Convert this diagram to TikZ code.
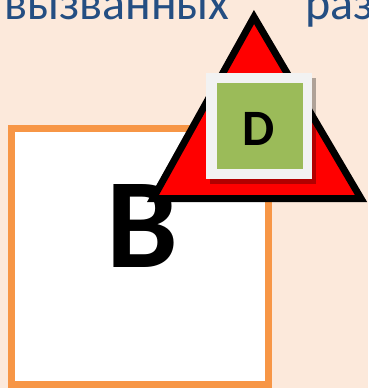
\documentclass[tikz,border=0pt]{standalone}
\usepackage{fontspec}
\setmainfont{Carlito}
\definecolor{bgpeach}{RGB}{252,233,219}
\definecolor{txtblue}{RGB}{36,78,130}
\definecolor{boxorange}{RGB}{247,150,70}
\definecolor{boxgreen}{RGB}{155,187,89}
\definecolor{framegray}{RGB}{242,242,242}
\tikzset{
  word/.style={anchor=base west, inner sep=0pt, text=txtblue, font=\fontsize{48}{48}\selectfont},
  bigletter/.style={anchor=base, inner sep=0pt, text=black},
}
\begin{document}
\begin{tikzpicture}[x=1pt,y=-1pt]
\fill[bgpeach] (0,0) rectangle (368,388);
\useasboundingbox (0,0) rectangle (368,388);
\node[word] (w1) at (4,19) {вызванных};
\node[word] (w2) at (305,19) {раз};
\node[draw=boxorange, line width=7pt, fill=white, minimum width=257pt, minimum height=256pt, inner sep=0pt] (box) at (140,256.5) {};
\node[bigletter, font=\bfseries\fontsize{128}{128}\selectfont] (B) at (142.5,267) {B};
\coordinate (tA) at (254,17);
\coordinate (tL) at (153,198.5);
\coordinate (tR) at (361,198.5);
\draw[black, line width=7pt, fill=red, line join=miter] (tA) -- (tL) -- (tR) -- cycle;
\node[fill=black, fill opacity=0.3, minimum size=106pt, inner sep=0pt] (shadow) at (263,131) {};
\node[fill=framegray, minimum size=106pt, inner sep=0pt] (frame) at (259,126) {};
\node[fill=boxgreen, minimum size=86pt, inner sep=0pt] (green) at (259.5,126) {};
\node[bigletter, font=\bfseries\fontsize{51}{51}\selectfont] (D) at (258.5,145) {D};
\end{tikzpicture}
\end{document}
